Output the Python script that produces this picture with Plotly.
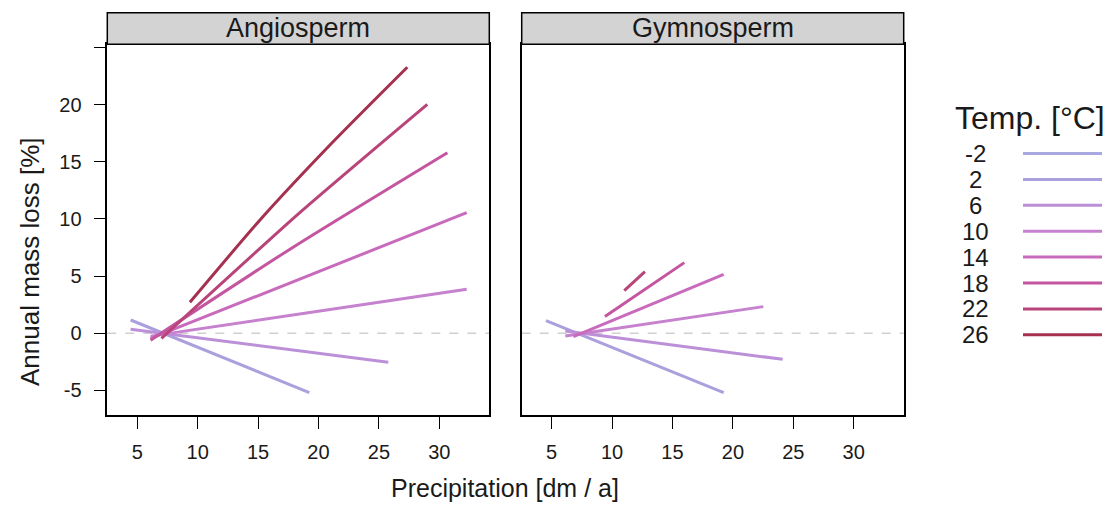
import plotly.graph_objects as go

# ---------------- data ----------------
temps = [-2, 2, 6, 10, 14, 18, 22, 26]
temp_labels = ["-2", "2", "6", "10", "14", "18", "22", "26"]
colors = ["#a8a9e0", "#ab9fdd", "#bc90d8", "#c681cf", "#c96bbd", "#c4559f", "#b84479", "#a5304f"]

panels = ["Angiosperm", "Gymnosperm"]

# Angiosperm: precipitation [dm/a] and annual mass loss [%] per temperature
angio_precip = [
    [],
    [4.45, 19.24],
    [4.45, 25.78],
    [6.10, 32.27],
    [6.10, 32.27],
    [6.10, 18.0, 30.67],
    [7.00, 18.5, 29.01],
    [9.36, 15.16, 21.23, 27.35],
]
angio_loss = [
    [],
    [1.16, -5.19],
    [0.35, -2.54],
    [-0.25, 3.85],
    [-0.45, 10.55],
    [-0.60, 7.6, 15.80],
    [-0.45, 10.6, 20.03],
    [2.71, 9.91, 16.77, 23.27],
]

# Gymnosperm
gymno_precip = [
    [],
    [4.53, 19.24],
    [6.13, 24.12],
    [6.13, 22.52],
    [6.80, 19.24],
    [9.41, 15.98],
    [11.01, 12.72],
    [],
]
gymno_loss = [
    [],
    [1.10, -5.19],
    [0.20, -2.28],
    [-0.24, 2.33],
    [-0.30, 5.16],
    [1.46, 6.18],
    [3.73, 5.39],
    [],
]

x_ticks = [5, 10, 15, 20, 25, 30]
y_ticks = [-5, 0, 5, 10, 15, 20, 25]
y_ticktext = ["-5", "0", "5", "10", "15", "20", ""]

x_range = [2.52, 34.14]
y_range = [-7.15, 25.28]

# ---------------- layout geometry ----------------
# page body has an 8px margin; build the figure inside it
OFF = 8
W, H = 1114 - 2 * OFF, 513 - 2 * OFF
FONT = "Liberation Sans, Arial, sans-serif"
TXT = "#1a1a1a"


def px_x(v):
    return (v - OFF) / W


def px_y(v):
    return 1 - (v - OFF) / H


panel_px = [(107.3, 489.3), (521.7, 903.7)]
top_px, bottom_px, strip_top_px = 44.3, 415.0, 12.7

fig = go.Figure()

for pi, (px_list, loss_list) in enumerate([(angio_precip, angio_loss), (gymno_precip, gymno_loss)]):
    xa = "x" if pi == 0 else "x2"
    ya = "y" if pi == 0 else "y2"
    for ti, t in enumerate(temps):
        if not px_list[ti]:
            continue
        fig.add_trace(go.Scatter(
            x=px_list[ti], y=loss_list[ti], mode="lines",
            line=dict(color=colors[ti], width=3, shape="spline", smoothing=0.6),
            xaxis=xa, yaxis=ya, showlegend=False, name=f"{t} °C",
            hoverinfo="x+y+name",
        ))

axis_common = dict(
    range=x_range, tickvals=x_ticks, ticks="outside", ticklen=12, tickwidth=1.3,
    tickcolor="black", showline=True, linecolor="black", linewidth=1.5, mirror=True,
    showgrid=False, zeroline=False, tickfont=dict(family=FONT, size=20, color=TXT),
    ticklabelstandoff=6,
)

fig.update_layout(
    width=W, height=H, autosize=False,
    margin=dict(l=0, r=0, t=0, b=0),
    paper_bgcolor="white", plot_bgcolor="white",
    showlegend=False,
    xaxis=dict(domain=[px_x(panel_px[0][0]), px_x(panel_px[0][1])], anchor="y", **axis_common),
    xaxis2=dict(domain=[px_x(panel_px[1][0]), px_x(panel_px[1][1])], anchor="y2", **axis_common),
    yaxis=dict(domain=[px_y(bottom_px), px_y(top_px)], anchor="x", range=y_range,
               tickvals=y_ticks, ticktext=y_ticktext, ticks="outside", ticklen=12,
               tickwidth=1.3, tickcolor="black", showline=True, linecolor="black",
               linewidth=1.5, mirror=True, showgrid=False, zeroline=False,
               tickfont=dict(family=FONT, size=20, color=TXT), ticklabelstandoff=8),
    yaxis2=dict(domain=[px_y(bottom_px), px_y(top_px)], anchor="x2", range=y_range,
                showticklabels=False, ticks="", showline=True, linecolor="black",
                linewidth=1.5, mirror=True, showgrid=False, zeroline=False),
)

shapes = []
annotations = []

# zero reference lines and strips
for pi, name in enumerate(panels):
    xr = "x domain" if pi == 0 else "x2 domain"
    yr = "y" if pi == 0 else "y2"
    shapes.append(dict(type="line", xref=xr, yref=yr, x0=0, x1=1, y0=0, y1=0,
                       line=dict(color="#d0d0d0", width=1.5, dash="dash"), layer="below"))
    x0, x1 = panel_px[pi]
    shapes.append(dict(type="rect", xref="paper", yref="paper",
                       x0=px_x(x0), x1=px_x(x1), y0=px_y(top_px), y1=px_y(strip_top_px),
                       fillcolor="#d3d3d3", line=dict(color="black", width=1.5)))
    annotations.append(dict(text=name, xref="paper", yref="paper",
                            x=px_x((x0 + x1) / 2), y=px_y((top_px + strip_top_px) / 2),
                            showarrow=False, xanchor="center", yanchor="middle",
                            font=dict(family=FONT, size=27, color=TXT)))

# axis titles
annotations.append(dict(text="Precipitation [dm / a]", xref="paper", yref="paper",
                        x=px_x(505), y=px_y(504), showarrow=False,
                        xanchor="center", yanchor="bottom",
                        font=dict(family=FONT, size=25, color=TXT)))
annotations.append(dict(text="Annual mass loss [%]", xref="paper", yref="paper",
                        x=px_x(30), y=px_y(262), showarrow=False, textangle=-90,
                        xanchor="center", yanchor="middle",
                        font=dict(family=FONT, size=26, color=TXT)))

# legend (key)
annotations.append(dict(text="Temp. [°C]", xref="paper", yref="paper",
                        x=px_x(1030), y=px_y(118), showarrow=False,
                        xanchor="center", yanchor="middle",
                        font=dict(family=FONT, size=32, color=TXT)))
for i, lab in enumerate(temp_labels):
    yy = 153.5 + i * 25.9
    annotations.append(dict(text=lab, xref="paper", yref="paper",
                            x=px_x(975), y=px_y(yy), showarrow=False,
                            xanchor="center", yanchor="middle", align="center",
                            font=dict(family=FONT, size=24, color=TXT)))
    shapes.append(dict(type="line", xref="paper", yref="paper",
                       x0=px_x(1023), x1=px_x(1102), y0=px_y(yy), y1=px_y(yy),
                       line=dict(color=colors[i], width=3)))

fig.update_layout(shapes=shapes, annotations=annotations)

fig.write_html("out.html")
